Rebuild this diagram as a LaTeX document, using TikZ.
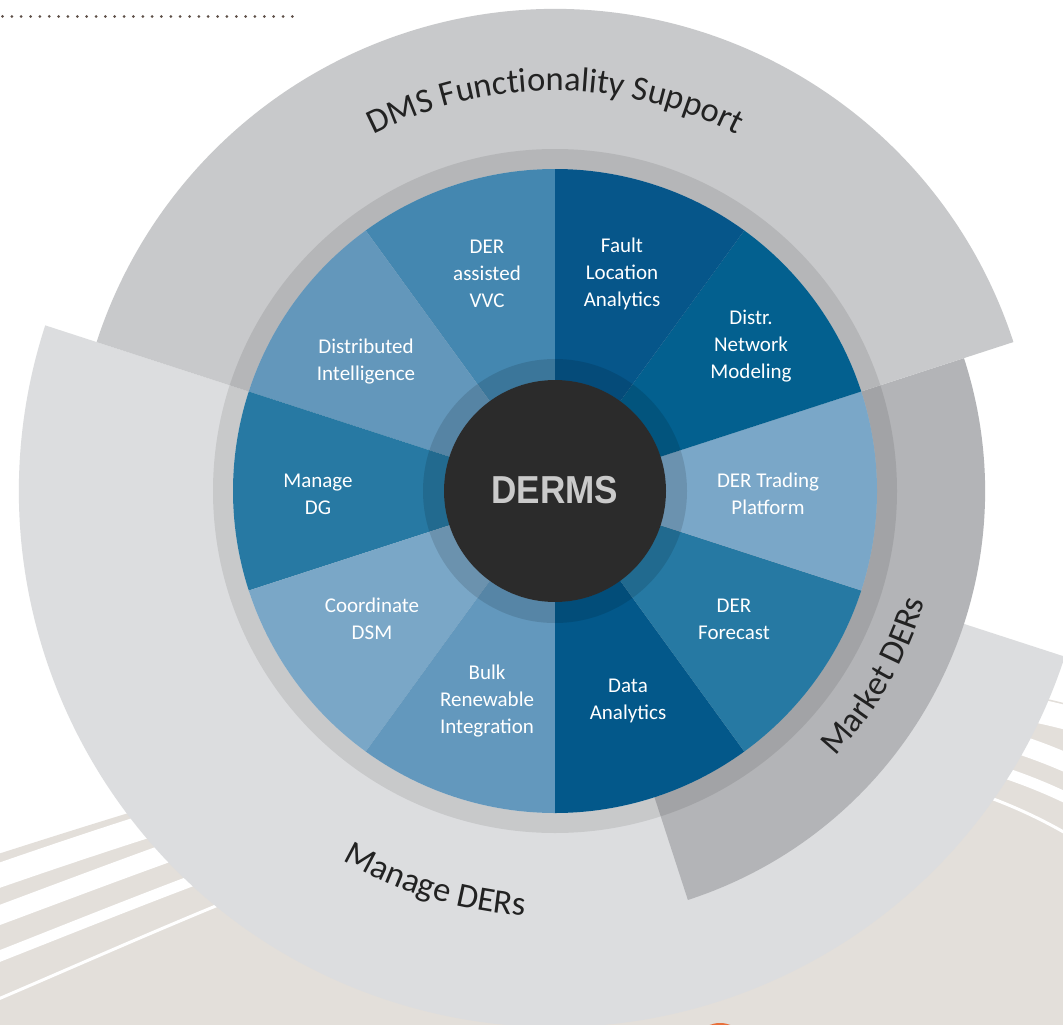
\documentclass[tikz,border=0pt]{standalone}
\usepackage{fontspec}
\newfontfamily\carl{Carlito}
\newfontfamily\libsans{Liberation Sans}
\usetikzlibrary{decorations.text}
\definecolor{beige}{HTML}{E3DFDA}
\definecolor{dmsgray}{HTML}{C8C9CB}
\definecolor{mangray}{HTML}{DCDDDF}
\definecolor{mktgray}{HTML}{B3B4B7}
\definecolor{dotbrown}{HTML}{5E5048}
\definecolor{orangeblob}{HTML}{E8703A}
\definecolor{cvvc}{HTML}{4487B0}
\definecolor{cdi}{HTML}{6397BB}
\definecolor{cmdg}{HTML}{2779A3}
\definecolor{cdsm}{HTML}{7AA7C7}
\definecolor{cbulk}{HTML}{6398BD}
\definecolor{cdata}{HTML}{03588A}
\definecolor{cfore}{HTML}{2679A3}
\definecolor{ctrade}{HTML}{7AA7C8}
\definecolor{cnet}{HTML}{03608F}
\definecolor{cfault}{HTML}{06568A}
\definecolor{coretxt}{HTML}{CACACA}
\definecolor{corebg}{HTML}{2B2B2B}
\definecolor{ringtxt}{HTML}{222222}
\newcommand{\mysector}[4]{\fill[#1] (555,-491) -- ++(#2:#4pt) arc[start angle=#2, end angle=#3, radius=#4pt] -- cycle;}
\begin{document}
\begin{tikzpicture}[x=1pt,y=1pt,
  lbl/.style={font=\carl\fontsize{21}{27}\selectfont, text=white, align=center, inner sep=0pt},
  stripe/.style={draw=white, line cap=butt},
  ringlabel/.style={decorate, decoration={text along path, text align=center, text color=ringtxt,
     text={|\carl\fontsize{34.5}{40}\selectfont|#1}}}]
\clip (0,0) rectangle (1063,-1025);
\fill[white] (0,0) rectangle (1063,-1025);
% background beige swoosh
\fill[beige] (-30,-863) .. controls (300,-757) and (763,-612) .. (1093,-711) -- (1093,-1040) -- (-30,-1040) -- cycle;
\draw[stripe, line width=24pt] (-30,-885.5) .. controls (300,-770) and (763,-626) .. (1093,-725);
\draw[stripe, line width=19pt] (-30,-926) .. controls (300,-804) and (763,-610) .. (1093,-775);
\draw[stripe, line width=11pt] (-30,-967.7) .. controls (300,-839) and (763,-630) .. (1093,-811.5);
\draw[stripe, line width=3pt] (-30,-1011) .. controls (300,-872.5) and (763,-632) .. (1093,-850);
\node[circle, fill=orangeblob, minimum size=58pt, inner sep=0pt] (blob) at (720,-1052) {};
% dotted rule
\foreach \i in {0,...,31} {\fill[dotbrown] (2.5+9.35*\i,-16.5) circle[radius=1.5pt];}
% outer sectors
\mysector{mangray}{162}{342}{536}
\mysector{mktgray}{-72}{18}{430}
\mysector{dmsgray}{18}{162}{482}
% ring between pie and outer sectors
\fill[black, opacity=0.09, even odd rule] (555,-491) circle[radius=342pt] (555,-491) circle[radius=322pt];
% pie
\mysector{cvvc}{90}{126}{322}
\mysector{cdi}{126}{162}{322}
\mysector{cmdg}{162}{198}{322}
\mysector{cdsm}{198}{234}{322}
\mysector{cbulk}{234}{270}{322}
\mysector{cdata}{270}{306}{322}
\mysector{cfore}{306}{342}{322}
\mysector{ctrade}{342}{378}{322}
\mysector{cnet}{18}{54}{322}
\mysector{cfault}{54}{90}{322}
% inner ring
\fill[black, opacity=0.12, even odd rule] (555,-491) circle[radius=132pt] (555,-491) circle[radius=111pt];
\node[circle, fill=corebg, minimum size=222pt, inner sep=0pt] (core) at (555,-491) {};
\node[font=\libsans\bfseries\fontsize{39}{39}\selectfont, text=coretxt, inner sep=0pt] (derms) at (555,-490) {\scalebox{0.9}[1]{DERMS}};
% segment labels
\node[lbl] (vvc) at (487,-274) {DER\\assisted\\VVC};
\node[lbl] (fault) at (622,-274) {Fault\\Location\\Analytics};
\node[lbl] (net) at (751,-346) {Distr.\\Network\\Modeling};
\node[lbl] (trade) at (768,-494) {DER Trading\\Platform};
\node[lbl] (fore) at (734,-619) {DER\\Forecast};
\node[lbl] (data) at (628,-701) {Data\\Analytics};
\node[lbl] (bulk) at (487,-701) {Bulk\\Renewable\\Integration};
\node[lbl] (dsm) at (372,-619) {Coordinate\\DSM};
\node[lbl] (mdg) at (318,-494) {Manage\\DG};
\node[lbl] (di) at (366,-362) {Distributed\\Intelligence};
% ring labels
\path[ringlabel={DMS Functionality Support}] (555,-491) ++(150:400pt) arc[start angle=150, end angle=30, radius=400pt];
\path[ringlabel={Manage DERs}] (555,-491) ++(208:426pt) arc[start angle=208, end angle=298, radius=426pt];
\path[ringlabel={Market DERs}] (555,-491) ++(-75:386pt) arc[start angle=-75, end angle=15, radius=386pt];
\end{tikzpicture}
\end{document}
